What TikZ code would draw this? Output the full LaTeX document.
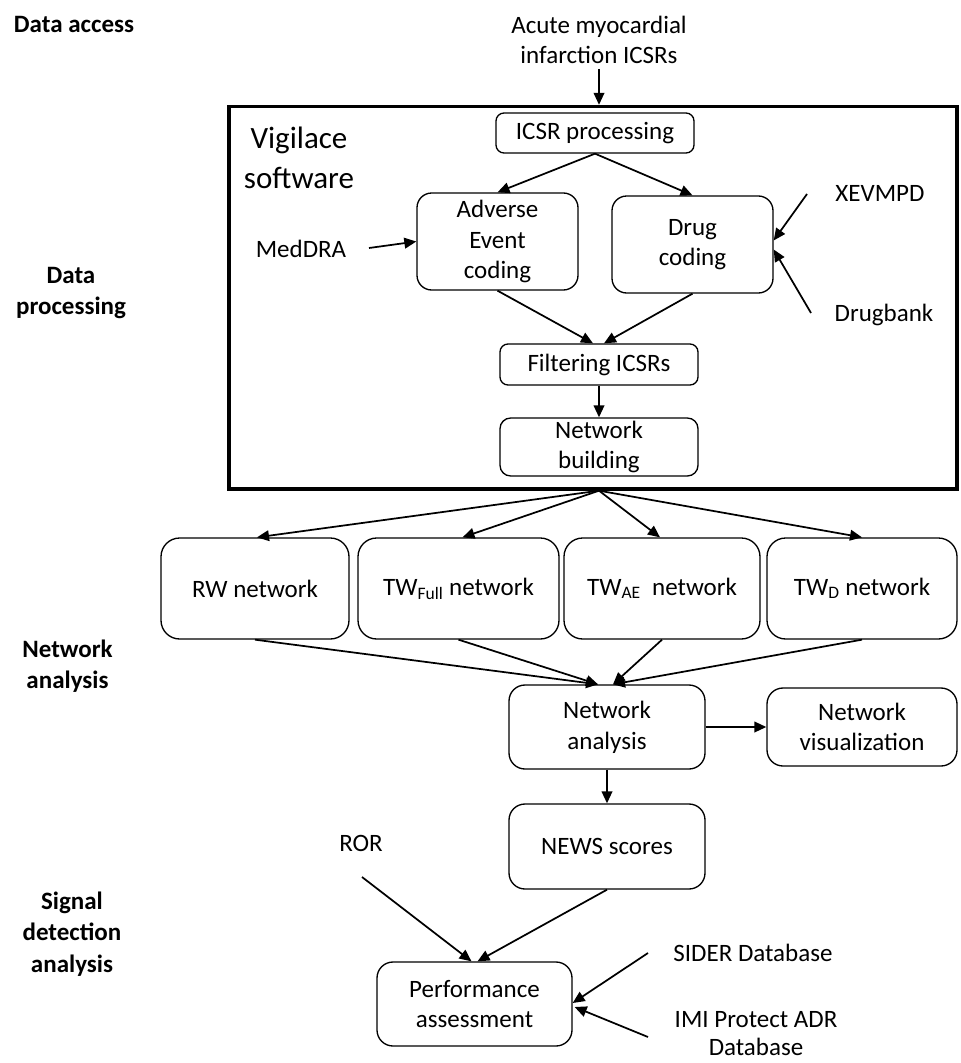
\documentclass[tikz,border=0pt]{standalone}
\usepackage{fontspec}
\setmainfont{Carlito}
\usetikzlibrary{arrows.meta,calc}
\newcommand\fnt{\fontsize{18.75pt}{23pt}\selectfont}
\newcommand\tightfnt{\fontsize{18.75pt}{21pt}\selectfont}
\newcommand\bfnt{\fontsize{18.75pt}{23.5pt}\selectfont\bfseries}
\newcommand\bigfnt{\fontsize{23.25pt}{30pt}\selectfont}
\begin{document}
\begin{tikzpicture}[x=0.75pt,y=-0.75pt,
  box/.style={draw, line width=1pt, rounded corners=11pt, align=center, inner sep=0pt, font=\fnt},
  conn/.style={-{Triangle[length=9pt,width=8pt]}, line width=1.3pt},
  lbl/.style={font=\bfnt, align=center},
  txt/.style={font=\fnt, align=center}]
\useasboundingbox (0,0) rectangle (960,1063);

% stage labels
\node[lbl] (la) at (74,24) {Data access};
\node[lbl] (lp) at (71,293) {Data\\processing};
\node[lbl] (ln) at (67.5,666) {Network\\analysis};
\node[lbl] (ls) at (72,934) {Signal\\detection\\analysis};

% frame
\node[draw, line width=2.5pt, minimum width=546pt, minimum height=286.9pt, inner sep=0pt] (frame) at (593,297.75) {};
\node[font=\bigfnt, align=center] (vig) at (299,158) {Vigilace\\software};

% texts
\node[txt] (acute) at (599,40) {Acute myocardial\\infarction ICSRs};
\node[txt] (medra) at (301,249) {MedDRA};
\node[txt] (xev) at (880,193) {XEVMPD};
\node[txt] (dbank) at (884,315) {Drugbank};
\node[txt] (ror) at (361,843) {ROR};
\node[txt] (sider) at (753,953) {SIDER Database};
\node[font=\tightfnt, align=center] (imi) at (756,1034) {IMI Protect ADR\\Database};

% boxes
\node[box, minimum width=148.5pt, minimum height=30pt, rounded corners=6pt] (icsr) at (595,133) {ICSR processing};
\node[box, minimum width=120.75pt, minimum height=72.75pt] (ae) at (497.5,241.5) {Adverse\\Event\\coding};
\node[box, minimum width=120.75pt, minimum height=72.75pt] (drug) at (692.5,244.5) {Drug\\coding};
\node[box, minimum width=148.5pt, minimum height=30.75pt, rounded corners=6pt] (filt) at (599,364.5) {Filtering ICSRs};
\node[box, minimum width=148.5pt, minimum height=43.5pt, rounded corners=8pt] (nb) at (599,447) {Network\\building};

\node[box, minimum width=141pt, minimum height=75.75pt, rounded corners=14pt] (rw) at (255,588.5) {RW network};
\node[box, minimum width=150.75pt, minimum height=75.75pt, rounded corners=14pt] (twf) at (458.5,588.5) {TW\textsubscript{Full} network};
\node[box, minimum width=147pt, minimum height=75.75pt, rounded corners=14pt] (twae) at (662,588.5) {TW\textsubscript{AE}\ \ network};
\node[box, minimum width=142.5pt, minimum height=75.75pt, rounded corners=14pt] (twd) at (862,588.5) {TW\textsubscript{D} network};

\node[box, minimum width=147pt, minimum height=63pt, rounded corners=12pt] (na) at (607,727) {Network\\analysis};
\node[box, minimum width=142.5pt, minimum height=58.5pt, rounded corners=12pt] (nv) at (862,727) {Network\\visualization};
\node[box, minimum width=147pt, minimum height=63.75pt, rounded corners=12pt] (news) at (607,846.5) {NEWS scores};
\node[box, minimum width=146.25pt, minimum height=63pt, rounded corners=12pt] (perf) at (474.5,1004) {Performance\\assessment};

% free ends
\coordinate (medS) at (369,248);
\coordinate (xevS) at (807,194);
\coordinate (dbS) at (811,313);
\coordinate (rorS) at (362,877);
\coordinate (sidS) at (648,953);
\coordinate (imiS) at (648,1037);
\coordinate (fb) at (nb |- frame.south);

% connectors
\draw[conn] (acute.south) -- (acute.south |- frame.north);
\draw[conn] (icsr.south) -- (ae.north);
\draw[conn] (icsr.south) -- (drug.north);
\draw[conn] (medS) -- (ae.west);
\draw[conn] (xevS) -- ($(drug.east)+(0,-4)$);
\draw[conn] (dbS) -- ($(drug.east)+(0,5)$);
\draw[conn] (ae.south) -- ($(filt.north)+(-6,0)$);
\draw[conn] (drug.south) -- ($(filt.north)+(5,0)$);
\draw[conn] (filt.south) -- (nb.north);

\draw[conn] (fb) -- ($(rw.north)+(2,0)$);
\draw[conn] (fb) -- ($(twf.north)+(4,0)$);
\draw[conn] (fb) -- ($(twae.north)+(-2,0)$);
\draw[conn] (fb) -- (twd.north);

\draw[conn] (rw.south) -- ($(na.north)+(-9,0)$);
\draw[conn] (twf.south) -- ($(na.north)+(-9,0)$);
\draw[conn] (twae.south) -- ($(na.north)+(6,0)$);
\draw[conn] (twd.south) -- ($(na.north)+(6,0)$);

\draw[conn] (na.east) -- (nv.west);
\draw[conn] (na.south) -- (news.north);
\draw[conn] (rorS) -- ($(perf.north)+(-3,0)$);
\draw[conn] (news.south) -- ($(perf.north)+(3,0)$);
\draw[conn] (sidS) -- ($(perf.east)+(0,-1)$);
\draw[conn] (imiS) -- ($(perf.east)+(2,3)$);
\end{tikzpicture}
\end{document}
